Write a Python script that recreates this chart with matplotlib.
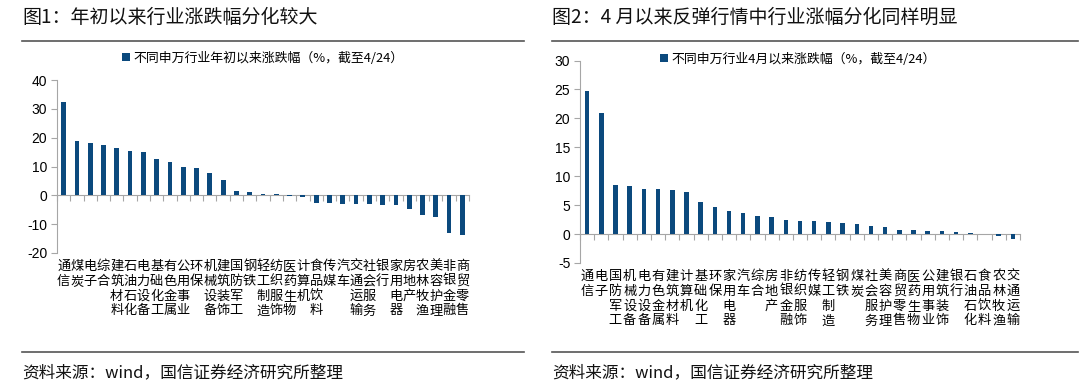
import numpy as np
import matplotlib.pyplot as plt
from matplotlib.transforms import blended_transform_factory
from matplotlib.lines import Line2D

plt.rcParams['font.family'] = ['Noto Sans CJK SC', 'DejaVu Sans']
plt.rcParams['axes.unicode_minus'] = False

# chart 1: change since start of year
industries1 = ['通信', '煤炭', '电子', '综合', '建筑材料', '石油石化', '电力设备', '基础化工',
               '有色金属', '公用事业', '环保', '机械设备', '建筑装饰', '国防军工', '钢铁', '轻工制造',
               '纺织服饰', '医药生物', '计算机', '食品饮料', '传媒', '汽车', '交通运输', '社会服务',
               '银行', '家用电器', '房地产', '农林牧渔', '美容护理', '非银金融', '商贸零售']
ytd_chg = [32.2, 18.7, 18.0, 17.3, 16.3, 15.5, 15.0, 12.7, 11.6, 9.8, 9.6, 7.6, 5.2, 1.6, 1.3, 0.5,
           0.3, -0.1, -0.6, -2.6, -2.6, -2.9, -2.9, -3.1, -3.3, -3.5, -4.7, -6.7, -7.6, -12.9, -13.7]

# chart 2: change since April
industries2 = ['通信', '电子', '国防军工', '机械设备', '电力设备', '有色金属', '建筑材料', '计算机',
               '基础化工', '环保', '家用电器', '汽车', '综合', '房地产', '非银金融', '纺织服饰',
               '传媒', '轻工制造', '钢铁', '煤炭', '社会服务', '美容护理', '商贸零售', '医药生物',
               '公用事业', '建筑装饰', '银行', '石油石化', '食品饮料', '农林牧渔', '交通运输']
apr_chg = [24.7, 21.0, 8.4, 8.3, 7.8, 7.8, 7.6, 7.3, 5.5, 4.7, 4.0, 3.7, 3.2, 3.0, 2.4, 2.2,
           2.2, 2.1, 1.95, 1.7, 1.4, 1.3, 0.75, 0.7, 0.5, 0.45, 0.35, 0.1, 0.02, -0.4, -0.9]

W, H = 1080, 386
bar_color = '#0B497D'
axis_color = '#A6A6A6'

fig = plt.figure(figsize=(W / 100, H / 100), dpi=100)


def px_axes(left, top, right, bottom):
    return fig.add_axes([left / W, 1 - bottom / H, (right - left) / W, (bottom - top) / H])


def draw_panel(ax, names, vals, ylim, step, legend_text, legend_xy, label_top, width):
    x = np.arange(len(names))
    bars = ax.bar(x, vals, width=width, color=bar_color, label=legend_text, zorder=3)
    ax.set_xlim(-0.5, len(names) - 0.5)
    ax.set_ylim(*ylim)
    ax.set_yticks(np.arange(ylim[0], ylim[1] + step / 2, step))
    for s in ['top', 'right']:
        ax.spines[s].set_visible(False)
    ax.spines['left'].set_color(axis_color)
    ax.spines['bottom'].set_color(axis_color)
    ax.spines['bottom'].set_position(('data', 0))
    ax.set_xticks(np.arange(-0.5, len(names), 1.0))
    ax.tick_params(axis='x', length=4, color=axis_color, labelbottom=False, direction='out')
    ax.tick_params(axis='y', length=4, color=axis_color, labelsize=10, pad=3)
    for lab in ax.get_yticklabels():
        lab.set_fontfamily(['Liberation Sans', 'DejaVu Sans'])
    tr = blended_transform_factory(ax.transData, fig.transFigure)
    for i, name in enumerate(names):
        ax.text(i, 1 - label_top / H, '\n'.join(name), transform=tr, ha='center', va='top',
                fontsize=9.5, linespacing=1.18, color='#000000')
    ax.legend(handles=[bars], loc='center left', frameon=False, fontsize=9.3,
              bbox_to_anchor=(legend_xy[0] / W, 1 - legend_xy[1] / H),
              bbox_transform=fig.transFigure, handlelength=0.6, handleheight=0.6,
              handletextpad=0.3, borderaxespad=0, borderpad=0)


ax1 = px_axes(57, 80, 469, 253)
draw_panel(ax1, industries1, ytd_chg, (-20, 40), 10,
           '不同申万行业年初以来涨跌幅（%，截至4/24）', (122, 58), 260, 0.36)

ax2 = px_axes(580, 60.5, 1020, 263)
draw_panel(ax2, industries2, apr_chg, (-5, 30), 5,
           '不同申万行业4月以来涨跌幅（%，截至4/24）', (660, 59), 270, 0.32)

# titles, rules and source notes
titles = ['图1：年初以来行业涨跌幅分化较大', '图2：4 月以来反弹行情中行业涨幅分化同样明显']
source = '资料来源：wind，国信证券经济研究所整理'
for x0, x1, t in [(22, 524, titles[0]), (552, 1078, titles[1])]:
    fig.text(x0 / W, 1 - 17 / H, t, fontsize=13.7, va='center', ha='left', color='#111111')
    fig.add_artist(Line2D([x0 / W, x1 / W], [1 - 41 / H] * 2, color='#555555', lw=1.2))
    fig.add_artist(Line2D([x0 / W, x1 / W], [1 - 352 / H] * 2, color='#555555', lw=1.2))
    fig.text(x0 / W, 1 - 373 / H, source, fontsize=12, va='center', ha='left', color='#111111')

fig.savefig('out.png', dpi=100)
